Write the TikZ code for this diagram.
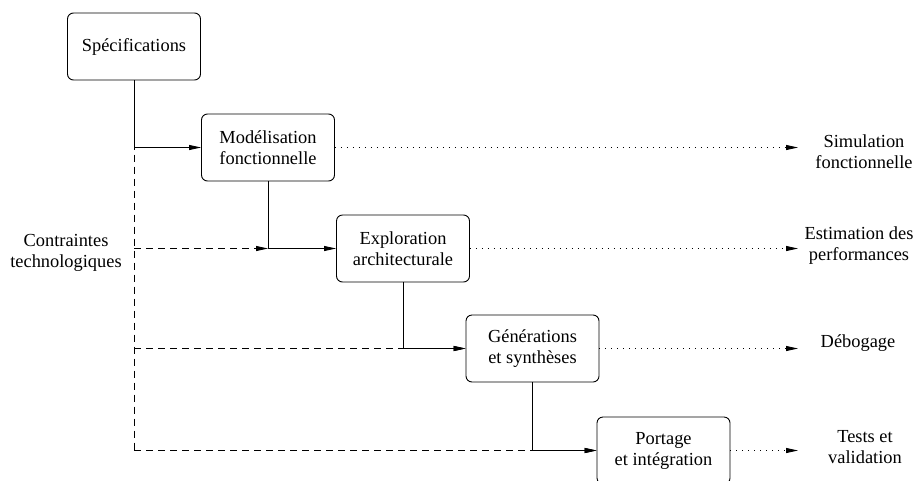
\documentclass[tikz,border=0pt]{standalone}
\usepackage{fontspec}
\setmainfont{Liberation Serif}
\usetikzlibrary{arrows.meta}
\begin{document}
\begin{tikzpicture}[x=1pt,y=-1pt,
  every node/.style={font=\fontsize{18.4}{21}\selectfont, align=center, inner sep=0pt},
  stagebox/.style={draw, rounded corners=6pt, line width=0.9pt, minimum width=133pt, minimum height=67pt},
  conn/.style={line width=0.9pt},
  tip/.style={-{Triangle[length=12pt,width=5pt]}},
  dashline/.style={conn, dash pattern=on 7pt off 5pt},
  dotline/.style={conn, dash pattern=on 1pt off 5pt}]
\clip (0,0) rectangle (917,480);
\useasboundingbox (0,0) rectangle (917,480);

\node[stagebox] (b1) at (134,46.5) {Spécifications};
\node[stagebox] (b2) at (268,147.5) {Modélisation\\fonctionnelle};
\node[stagebox] (b3) at (403,248.5) {Exploration\\architecturale};
\node[stagebox] (b4) at (532.5,348.5) {Générations\\et synthèses};
\node[stagebox] (b5) at (663.5,450.5) {Portage\\et intégration};

\node (ct) at (66,253) {Contraintes\\technologiques};
\node (l1) at (864,152) {Simulation\\fonctionnelle};
\node (l2) at (859,246) {Estimation des\\performances};
\node (l3) at (858,343) {Débogage};
\node (l4) at (865,447) {Tests et\\validation};

\coordinate (j1) at (b1.south |- b2.west);
\coordinate (j2) at (b2.south |- b3.west);
\coordinate (j3) at (b3.south |- b4.west);
\coordinate (j4) at (b4.south |- b5.west);
\coordinate (d0) at ([yshift=5pt]j1);
\coordinate (d2) at (j1 |- b3.west);
\coordinate (d3) at (j1 |- b4.west);
\coordinate (d4) at (j1 |- b5.west);

\coordinate (e1) at (798,0 |- b2.east);
\coordinate (e2) at (798,0 |- b3.east);
\coordinate (e3) at (798,0 |- b4.east);
\coordinate (e4) at (798,0 |- b5.east);

% solid flow
\draw[conn,tip] (b1.south) -- (j1) -- (b2.west);
\draw[conn,tip] (b2.south) -- (j2) -- (b3.west);
\draw[conn,tip] (b3.south) -- (j3) -- (b4.west);
\draw[conn,tip] (b4.south) -- (j4) -- (b5.west);

% constraints (dashed)
\draw[dashline] (d0) -- (d4);
\draw[dashline,tip] (d2) -- (j2);
\draw[dashline,tip] (d3) -- (b4.west);
\draw[dashline,tip] (d4) -- (b5.west);

% outputs (dotted)
\draw[dotline,tip] (b2.east) -- (e1);
\draw[dotline,tip] (b3.east) -- (e2);
\draw[dotline,tip] (b4.east) -- (e3);
\draw[dotline,tip] (b5.east) -- (e4);
\end{tikzpicture}
\end{document}
